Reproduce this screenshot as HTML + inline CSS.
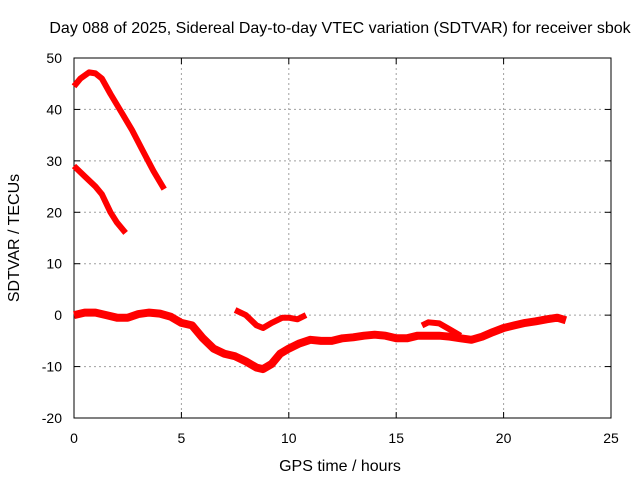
<!DOCTYPE html>
<html><head><meta charset="utf-8"><style>
body{margin:0;background:#fff}
svg{font-family:"Liberation Sans",sans-serif;font-size:14px}
.big{font-size:16px}
</style></head><body>
<svg width="640" height="480">
<rect width="640" height="480" fill="#fff"/>
<g id="grid"></g>
<g id="ticks"></g>
<rect x="74" y="58" width="537" height="360" fill="none" stroke="#000" stroke-width="1"/>
<g id="series"></g>
<text class="big" x="340" y="33" text-anchor="middle">Day 088 of 2025, Sidereal Day-to-day VTEC variation (SDTVAR) for receiver sbok</text>
<text class="big" x="340" y="471" text-anchor="middle">GPS time / hours</text>
<text class="big" transform="translate(19,238) rotate(-90)" text-anchor="middle">SDTVAR / TECUs</text>
</svg>
<script>
const xTicks=[0,5,10,15,20,25];
const yTicks=[-20,-10,0,10,20,30,40,50];
const s1x=[0,0.3,0.7,1,1.3,1.7,2.2,2.7,3.2,3.7,4.2];
const s1y=[44.5,46,47.2,47,46,43,39.5,36,32,28,24.5];
const s2x=[0,0.5,1,1.3,1.7,2,2.4];
const s2y=[29,27,25,23.5,20,18,16];
const s3x=[0,0.5,1,1.5,2,2.5,3,3.5,4,4.5,5,5.5,6,6.5,7,7.5,8,8.5,8.8,9.2,9.6,10,10.5,11,11.5,12,12.5,13,13.5,14,14.5,15,15.5,16,16.5,17,17.5,18,18.5,19,19.5,20,20.5,21,21.5,22,22.5,22.9];
const s3y=[0,0.5,0.5,0,-0.5,-0.5,0.2,0.5,0.3,-0.3,-1.5,-2,-4.5,-6.5,-7.5,-8,-9,-10.2,-10.5,-9.5,-7.5,-6.5,-5.5,-4.8,-5,-5,-4.5,-4.3,-4,-3.8,-4,-4.5,-4.5,-4,-4,-4,-4.2,-4.5,-4.8,-4.2,-3.3,-2.5,-2,-1.5,-1.2,-0.8,-0.5,-1];
const s4x=[7.5,8,8.5,8.8,9.2,9.7,10,10.4,10.8];
const s4y=[1,0,-2,-2.5,-1.5,-0.5,-0.5,-0.8,0];
const s5x=[16.2,16.5,17,17.5,18];
const s5y=[-2,-1.4,-1.6,-2.8,-4];
const X=v=>74+v*(537/25), Y=v=>418-(v+20)*(360/70);
const NS="http://www.w3.org/2000/svg";
const grid=document.getElementById('grid'), ticks=document.getElementById('ticks'), ser=document.getElementById('series');
function mk(tag,attrs,parent){const e=document.createElementNS(NS,tag);for(const k in attrs)e.setAttribute(k,attrs[k]);parent.appendChild(e);return e;}
xTicks.forEach(t=>{
  if(t>0&&t<25){const g=mk('line',{x1:X(t),x2:X(t),y1:58,y2:418,stroke:'#a0a0a0','stroke-dasharray':'2,3'},grid);
  
  }
  const l=mk('text',{x:X(t),y:443,'text-anchor':'middle'},ticks);l.textContent=t;
  
  
  mk('line',{x1:X(t),x2:X(t),y1:418,y2:412,stroke:'#000'},ticks);
  mk('line',{x1:X(t),x2:X(t),y1:58,y2:64,stroke:'#000'},ticks);
});
yTicks.forEach(t=>{
  if(t>-20&&t<50){const g=mk('line',{x1:74,x2:611,y1:Y(t),y2:Y(t),stroke:'#a0a0a0','stroke-dasharray':'2,3'},grid);
  
  }
  const l=mk('text',{x:62,y:Y(t)+5,'text-anchor':'end'},ticks);l.textContent=t;
  
  
  mk('line',{x1:74,x2:80,y1:Y(t),y2:Y(t),stroke:'#000'},ticks);
  mk('line',{x1:611,x2:605,y1:Y(t),y2:Y(t),stroke:'#000'},ticks);
});
[[s1x,s1y],[s2x,s2y],[s3x,s3y],[s4x,s4y],[s5x,s5y]].forEach((s,i)=>{
  const pts=s[0].map((x,j)=>X(x).toFixed(1)+','+Y(s[1][j]).toFixed(1)).join(' ');
  const p=mk('polyline',{points:pts,fill:'none',stroke:'#ff0000','stroke-width':i==2?8:6,'stroke-linejoin':'round','stroke-linecap':'butt'},ser);
  
  
});
</script>
</body></html>
